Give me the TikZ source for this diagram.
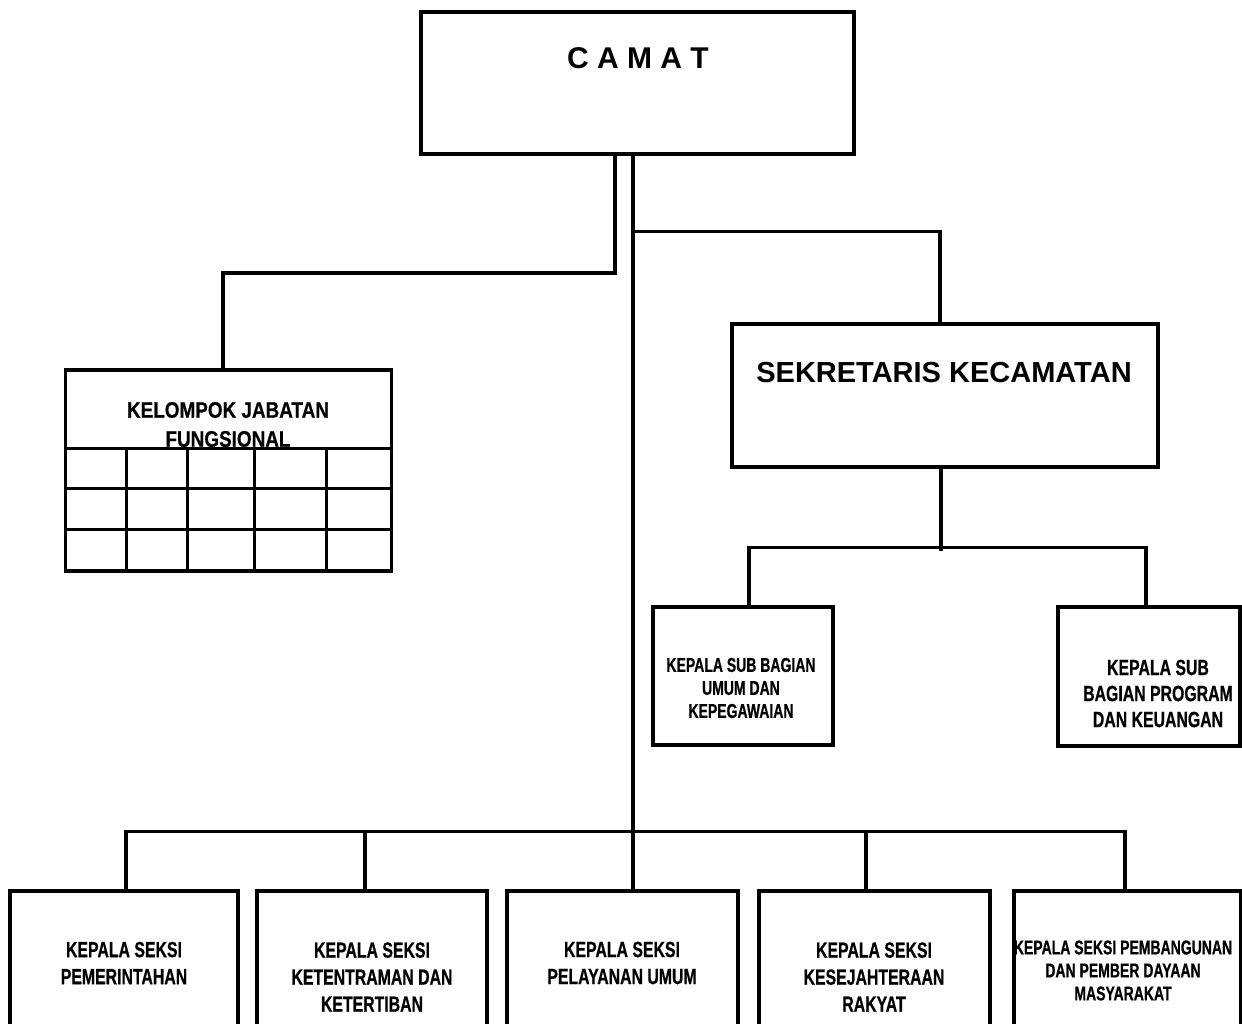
\documentclass[tikz,border=0pt]{standalone}
\usepackage{fontspec}
\setmainfont{Liberation Sans}
\newfontfamily\nA[FakeStretch=0.72,FakeBold=0.6]{Liberation Sans}
\newfontfamily\nB[FakeStretch=0.70,FakeBold=0.6]{Liberation Sans}
\newfontfamily\nK[FakeStretch=0.84,FakeBold=0.5]{Liberation Sans}
\begin{document}
\begin{tikzpicture}[x=1pt,y=-1pt,
  box/.style={draw, line width=3.5pt, inner sep=0pt, rectangle},
  conn/.style={line width=3.5pt},
  gridline/.style={line width=3pt},
  bigtxt/.style={inner sep=0pt, anchor=base, font=\bfseries\fontsize{30}{36}\selectfont},
  bottxt/.style={inner sep=0pt, align=center, font=\nA\bfseries\fontsize{22}{27}\selectfont},
  subtxt/.style={inner sep=0pt, align=center, font=\nB\bfseries\fontsize{20}{23}\selectfont},
  sub2txt/.style={inner sep=0pt, align=center, font=\nA\bfseries\fontsize{22}{26}\selectfont},
  kjftxt/.style={inner sep=0pt, align=center, font=\nK\bfseries\fontsize{22.5}{29}\selectfont}]
\useasboundingbox (0,0) rectangle (1242,1024);
\clip (0,0) rectangle (1242,1024);
\fill[white] (0,0) rectangle (1242,1024);

% boxes
\node[box, minimum width=433pt, minimum height=142pt] (camat) at (637.5,83) {};
\node[box, minimum width=326pt, minimum height=201pt] (kjf) at (228.5,470.5) {};
\node[box, minimum width=426pt, minimum height=143pt] (sek) at (945,395.5) {};
\node[box, minimum width=180pt, minimum height=138pt] (k1) at (743,676) {};
\node[box, minimum width=182pt, minimum height=139pt] (k2) at (1149,676.5) {};
\node[box, minimum width=228pt, minimum height=169pt] (b1) at (124,975.5) {};
\node[box, minimum width=230pt, minimum height=169pt] (b2) at (372,975.5) {};
\node[box, minimum width=231pt, minimum height=169pt] (b3) at (622.5,975.5) {};
\node[box, minimum width=231pt, minimum height=169pt] (b4) at (874.5,975.5) {};
\node[box, minimum width=227pt, minimum height=169pt] (b5) at (1127.5,975.5) {};

% grid of the functional group box
\draw[gridline] (65,448) -- (392,448);
\draw[gridline] (65,488) -- (392,488);
\draw[gridline] (65,529) -- (392,529);
\foreach \gx in {126,187,254,326} \draw[gridline] (\gx,448) -- (\gx,571);

% texts
\node[bigtxt] (camatT) at (638,69) {C A M A T};
\node[bigtxt, font=\bfseries\fontsize{29}{35}\selectfont] (sekT) at (944,382) {SEKRETARIS KECAMATAN};
\node[kjftxt] (kjfT) at (228,424.5) {KELOMPOK JABATAN\\FUNGSIONAL};
\node[subtxt] (k1T) at (741,688) {KEPALA SUB BAGIAN\\UMUM DAN\\KEPEGAWAIAN};
\node[sub2txt] (k2T) at (1158,693.5) {KEPALA SUB\\BAGIAN PROGRAM\\DAN KEUANGAN};
\node[bottxt] (b1T) at (124,963) {KEPALA SEKSI\\PEMERINTAHAN};
\node[bottxt] (b2T) at (372,977) {KEPALA SEKSI\\KETENTRAMAN DAN\\KETERTIBAN};
\node[bottxt] (b3T) at (622,963) {KEPALA SEKSI\\PELAYANAN UMUM};
\node[bottxt] (b4T) at (874,977) {KEPALA SEKSI\\KESEJAHTERAAN\\RAKYAT};
\node[subtxt] (b5T) at (1123,970.5) {KEPALA SEKSI PEMBANGUNAN\\DAN PEMBER DAYAAN\\MASYARAKAT};

% connectors
\draw[conn] ([xshift=-22.5pt]camat.south) |- ([xshift=-5.5pt,yshift=95pt]kjf.north) -- ([xshift=-5.5pt]kjf.north);
\draw[conn] ([xshift=-4.5pt]camat.south) -- ([xshift=10.5pt]b3.north);
\draw[conn] ([xshift=-4.5pt,yshift=-76pt]camat.south) -| ([xshift=-5pt]sek.north);
\draw[conn] ([xshift=-4pt]sek.south) -- ([xshift=-4pt,yshift=-82pt]sek.south);
\draw[conn] ([xshift=6pt]k1.north) |- ([xshift=-3pt,yshift=58pt]k2.north) -- ([xshift=-3pt]k2.north);
\draw[conn] ([xshift=2pt]b1.north) |- ([xshift=-2.5pt,yshift=58pt]b5.north) -- ([xshift=-2.5pt]b5.north);
\draw[conn] ([xshift=-7pt]b2.north) -- ([xshift=-7pt,yshift=58pt]b2.north);
\draw[conn] ([xshift=-8.5pt]b4.north) -- ([xshift=-8.5pt,yshift=58pt]b4.north);
\end{tikzpicture}
\end{document}
